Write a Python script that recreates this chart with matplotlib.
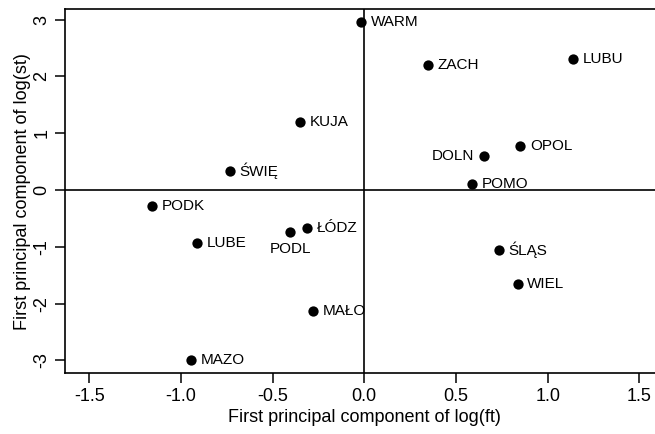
import matplotlib
matplotlib.use("Agg")
import matplotlib.pyplot as plt

names = ["WARM", "ZACH", "LUBU", "KUJA", "ŚWIĘ", "DOLN", "OPOL", "POMO",
         "PODK", "ŁÓDZ", "PODL", "LUBE", "ŚLĄS", "WIEL", "MAŁO", "MAZO"]
ft = [-0.016, 0.346, 1.136, -0.349, -0.732, 0.654, 0.851, 0.585,
      -1.159, -0.314, -0.403, -0.911, 0.734, 0.836, -0.281, -0.947]
st = [2.95, 2.20, 2.30, 1.196, 0.34, 0.598, 0.774, 0.111,
      -0.276, -0.663, -0.745, -0.938, -1.055, -1.648, -2.134, -2.99]
label_pos = {"DOLN": "left", "PODL": "below"}

xticks = [-1.5, -1.0, -0.5, 0.0, 0.5, 1.0, 1.5]
xticklabels = ["-1.5", "-1.0", "-0.5", "0.0", "0.5", "1.0", "1.5"]
yticks = [-3, -2, -1, 0, 1, 2, 3]

plt.rcParams['font.family'] = ['Liberation Sans', 'DejaVu Sans']

W, H = 655, 434
fig = plt.figure(figsize=(W / 100, H / 100), dpi=100)
x0, x1 = -1.632, 1.632
y0, y1 = -3.22, 3.18
left_px, top_px, bottom_px = 65, 9.3, 373
px_per_unit = 183.4
right_px = left_px + (x1 - x0) * px_per_unit
ax = fig.add_axes([left_px / W, 1 - bottom_px / H, (right_px - left_px) / W, (bottom_px - top_px) / H])
ax.set_xlim(x0, x1)
ax.set_ylim(y0, y1)

ax.axhline(0, color="black", lw=1.2, zorder=1)
ax.axvline(0, color="black", lw=1.2, zorder=1)
ax.scatter(ft, st, s=55, color="black", zorder=3, linewidths=0)

fs = 11
for n, x, y in zip(names, ft, st):
    pos = label_pos.get(n, "right")
    if pos == "right":
        ax.annotate(n, (x, y), xytext=(7, 0), textcoords="offset points",
                    ha="left", va="center", fontsize=fs)
    elif pos == "left":
        ax.annotate(n, (x, y), xytext=(-7, 0), textcoords="offset points",
                    ha="right", va="center", fontsize=fs)
    else:
        ax.annotate(n, (x, y), xytext=(0, -7), textcoords="offset points",
                    ha="center", va="top", fontsize=fs)

ax.set_xticks(xticks)
ax.set_xticklabels(xticklabels)
ax.set_yticks(yticks)
ax.set_yticklabels([str(v) for v in yticks], rotation=90, va="center")
ax.tick_params(axis="both", length=7.5, width=1.1, labelsize=13, pad=3)
for s in ax.spines.values():
    s.set_linewidth(1.2)
ax.spines["right"].set_visible(False)

ax.set_xlabel("First principal component of log(ft)", fontsize=13, labelpad=3)
ax.set_ylabel("First principal component of log(st)", fontsize=13, labelpad=2)

fig.savefig("out.png", dpi=100)
